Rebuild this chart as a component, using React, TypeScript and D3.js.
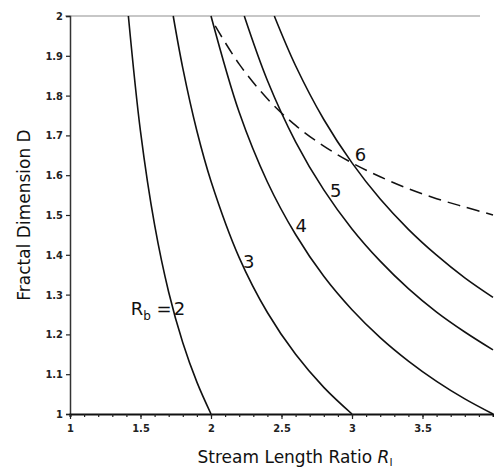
import React, { useEffect, useRef } from 'react';
import * as d3 from 'd3';

// Stream length ratio (x) vs fractal dimension (y)
const rb2 = [[1.414, 2.0], [1.5, 1.71], [1.6, 1.475], [1.7, 1.306], [1.8, 1.179], [1.9, 1.08], [2.0, 1.0]];
const rb3 = [[1.732, 2.0], [1.8, 1.869], [1.9, 1.711], [2.0, 1.585], [2.2, 1.393], [2.4, 1.255], [2.6, 1.15], [2.8, 1.067], [3.0, 1.0]];
const rb4 = [[2.0, 2.0], [2.2, 1.758], [2.4, 1.583], [2.6, 1.451], [2.8, 1.346], [3.0, 1.262], [3.2, 1.192], [3.4, 1.133], [3.6, 1.082], [3.8, 1.038], [4.0, 1.0]];
const rb5 = [[2.236, 2.0], [2.4, 1.838], [2.6, 1.684], [2.8, 1.563], [3.0, 1.465], [3.2, 1.384], [3.4, 1.315], [3.6, 1.256], [3.8, 1.206], [4.0, 1.161]];
const rb6 = [[2.449, 2.0], [2.6, 1.875], [2.8, 1.74], [3.0, 1.631], [3.2, 1.54], [3.4, 1.464], [3.6, 1.399], [3.8, 1.342], [4.0, 1.293]];
const dashed = [[2.03, 1.975], [2.2, 1.879], [2.4, 1.792], [2.6, 1.725], [2.8, 1.673], [3.0, 1.631], [3.2, 1.596], [3.4, 1.566], [3.6, 1.541], [3.8, 1.52], [4.0, 1.5]];

// curve labels: [x, y, text]
const curveLabels = [[2.227, 1.367, '3'], [2.6, 1.457, '4'], [2.844, 1.545, '5'], [3.02, 1.636, '6']];
const xTickLabels = [1, 1.5, 2, 2.5, 3, 3.5];
const yTickValues = [1, 1.1, 1.2, 1.3, 1.4, 1.5, 1.6, 1.7, 1.8, 1.9, 2];

function App() {
  return (
    <div style={{ position: 'fixed', top: 0, left: 0 }}>
      <FractalChart />
    </div>
  );
}

function FractalChart() {
  const ref = useRef(null);

  useEffect(() => {
    if (!ref.current) return;
    d3.select(ref.current).select('svg').remove();

    const width = 494;
    const height = 468;
    const tickFont = '"DejaVu Sans Condensed", "DejaVu Sans", sans-serif';
    const labelFont = '"DejaVu Sans", sans-serif';

    const svg = d3.select(ref.current)
      .append('svg')
      .attr('width', width)
      .attr('height', height)
      .style('display', 'block')
      .style('background', '#fff');

    const x = d3.scaleLinear().domain([1, 4]).range([70, 493]);
    const y = d3.scaleLinear().domain([1, 2]).range([414, 16]);

    // light top border
    svg.append('line')
      .attr('x1', 65).attr('x2', 480)
      .attr('y1', y(2)).attr('y2', y(2))
      .style('stroke', '#b5b5b5')
      .style('stroke-width', 1.5);

    // Y axis
    const yAxis = svg.append('g')
      .attr('transform', `translate(${x(1)},0)`)
      .call(d3.axisLeft(y).tickValues(yTickValues).tickSize(4).tickPadding(3)
        .tickFormat(d => (d === 1 || d === 2) ? String(d) : d3.format('.1f')(d)));
    yAxis.select('.domain').style('stroke', '#333').style('stroke-width', 1.5);
    yAxis.selectAll('.tick line').style('stroke', '#222').style('stroke-width', 1.2);
    yAxis.selectAll('.tick text')
      .style('font-family', tickFont)
      .style('font-size', '11px')
      .style('font-weight', 'bold')
      .style('fill', '#222');

    // X axis: minor ticks every 0.1
    const xAxis = svg.append('g')
      .attr('transform', `translate(0,${y(1)})`)
      .call(d3.axisBottom(x).tickValues(d3.range(10, 40).map(v => v / 10)).tickSize(3).tickFormat(() => ''));
    xAxis.select('.domain').style('stroke', '#111').style('stroke-width', 2);
    xAxis.selectAll('.tick line').style('stroke', '#222').style('stroke-width', 1.2);

    const xMajor = svg.append('g')
      .attr('transform', `translate(0,${y(1)})`)
      .call(d3.axisBottom(x).tickValues(xTickLabels).tickSize(5).tickPadding(5)
        .tickFormat(d => String(d)));
    xMajor.select('.domain').remove();
    xMajor.selectAll('.tick line').style('stroke', '#222').style('stroke-width', 1.2);
    xMajor.selectAll('.tick text')
      .style('font-family', tickFont)
      .style('font-size', '11px')
      .style('font-weight', 'bold')
      .style('fill', '#222');

    // curves
    const line = d3.line()
      .x(d => x(d[0]))
      .y(d => y(d[1]))
      .curve(d3.curveCatmullRom);

    [rb2, rb3, rb4, rb5, rb6].forEach(series => {
      svg.append('path')
        .datum(series)
        .attr('d', line)
        .style('fill', 'none')
        .style('stroke', '#111')
        .style('stroke-width', 1.6);
    });

    svg.append('path')
      .datum(dashed)
      .attr('d', line)
      .style('fill', 'none')
      .style('stroke', '#111')
      .style('stroke-width', 1.5)
      .style('stroke-dasharray', '13,7');

    curveLabels.forEach(l => {
      svg.append('text')
        .attr('x', x(l[0]))
        .attr('y', y(l[1]))
        .style('font-family', labelFont)
        .style('font-size', '18px')
        .style('fill', '#111')
        .text(l[2]);
    });

    // R_b = 2 label
    const rbText = svg.append('text')
      .attr('x', x(1.43))
      .attr('y', y(1.249))
      .style('font-family', labelFont)
      .style('font-size', '18px')
      .style('fill', '#111');
    rbText.append('tspan').text('R');
    rbText.append('tspan').attr('dy', 5).style('font-size', '12px').text('b');
    rbText.append('tspan').attr('dy', -5).text(' =');
    svg.append('text')
      .attr('x', x(1.735))
      .attr('y', y(1.249))
      .style('font-family', labelFont)
      .style('font-size', '18px')
      .style('fill', '#111')
      .text('2');

    // axis titles
    const xTitle = svg.append('text')
      .attr('x', 295)
      .attr('y', 463)
      .attr('text-anchor', 'middle')
      .style('font-family', labelFont)
      .style('font-size', '17px')
      .style('fill', '#111');
    xTitle.append('tspan').text('Stream Length Ratio  ');
    xTitle.append('tspan').style('font-style', 'italic').text('R');
    xTitle.append('tspan').attr('dy', 3).style('font-size', '11px').text('l');

    svg.append('text')
      .attr('transform', `translate(30,215) rotate(-90)`)
      .attr('text-anchor', 'middle')
      .style('font-family', labelFont)
      .style('font-size', '17px')
      .style('fill', '#111')
      .text('Fractal  Dimension  D');
  }, []);

  return <div ref={ref} />;
}

export default App;
